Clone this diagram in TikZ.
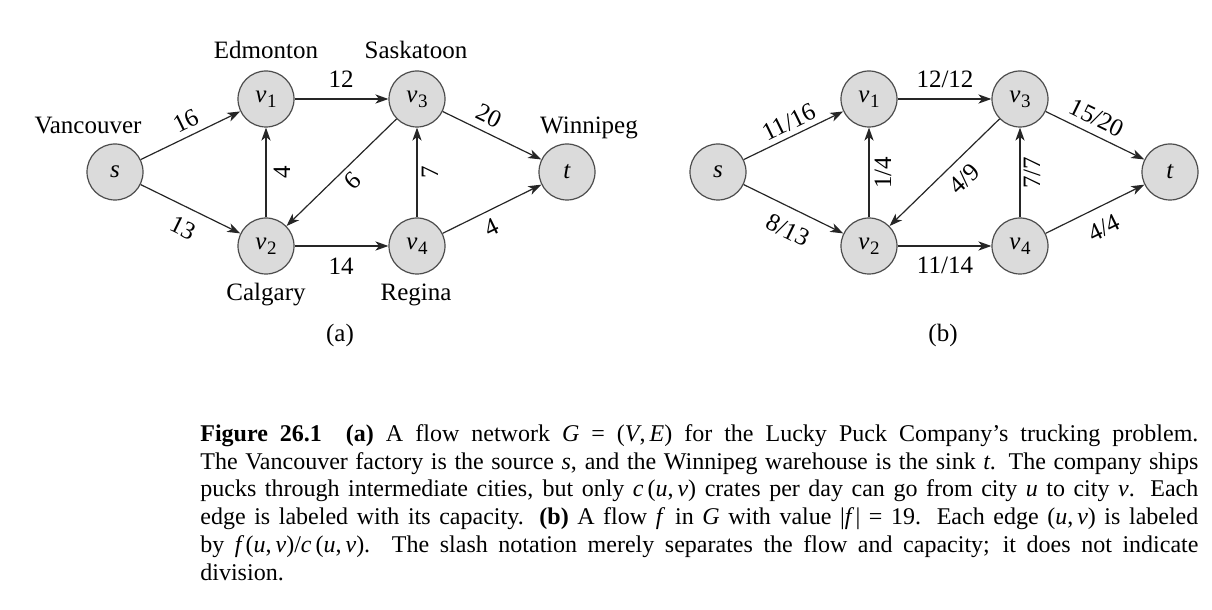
\documentclass[tikz,border=0pt]{standalone}
\usepackage{fontspec}
\setmainfont{Liberation Serif}
\usetikzlibrary{arrows.meta}
\newcommand\vx[2]{\textit{#1}\kern0.3pt\raisebox{-0.45ex}{\fontsize{9.5}{9.5}\selectfont #2}}
\newcommand\capline[1]{\hbox to 499pt{#1}}
\tikzset{
  vertex/.style={circle, draw=black!70, fill=black!14, line width=0.6pt, minimum size=28pt, inner sep=0pt, font=\fontsize{12.5}{14}\selectfont},
  edge/.style={draw=black!85, line width=0.6pt, -{Stealth[length=6.5pt,width=4.6pt,inset=1.8pt]}},
  city/.style={font=\fontsize{12.5}{14}\selectfont, inner sep=0pt},
  elab/.style={font=\fontsize{12.5}{14}\selectfont, inner sep=0pt},
}
\begin{document}
\begin{tikzpicture}[x=0.5pt,y=-0.5pt]
\useasboundingbox (0,0) rectangle (1212,610);
% ---------- (a)
\node[vertex] (s)  at (115,172) {\textit{s}};
\node[vertex] (v1) at (266,99)  {\vx{v}{1}};
\node[vertex] (v2) at (266,246) {\vx{v}{2}};
\node[vertex] (v3) at (417,99)  {\vx{v}{3}};
\node[vertex] (v4) at (417,246) {\vx{v}{4}};
\node[vertex] (t)  at (567,172) {\textit{t}};
\draw[edge] (s) -- (v1);
\draw[edge] (s) -- (v2);
\draw[edge] (v1) -- (v3);
\draw[edge] (v2) -- (v1);
\draw[edge] (v3) -- (v2);
\draw[edge] (v2) -- (v4);
\draw[edge] (v4) -- (v3);
\draw[edge] (v3) -- (t);
\draw[edge] (v4) -- (t);
\node[city] (edm) at (266,50) {Edmonton};
\node[city] (sas) at (416,50) {Saskatoon};
\node[city] (van) at (88,126) {Vancouver};
\node[city] (win) at (589,128) {Winnipeg};
\node[city] (cal) at (266,295) {Calgary};
\node[city] (reg) at (416,295) {Regina};
\node[elab, rotate=26]  (la1) at (186,121) {16};
\node[elab, rotate=-26] (la2) at (183,228) {13};
\node[elab] (la3) at (341,79) {12};
\node[elab] (la4) at (341,266) {14};
\node[elab, rotate=90] (la5) at (282,172) {4};
\node[elab, rotate=224] (la6) at (353,181) {9};
\node[elab, rotate=90] (la7) at (430,172) {7};
\node[elab, rotate=-26] (la8) at (489,116) {20};
\node[elab, rotate=26] (la9) at (492,227) {4};
\node[city] (capa) at (340,335) {(a)};
% ---------- (b)
\node[vertex] (bs)  at (718,172) {\textit{s}};
\node[vertex] (bv1) at (869,99)  {\vx{v}{1}};
\node[vertex] (bv2) at (869,246) {\vx{v}{2}};
\node[vertex] (bv3) at (1020,99)  {\vx{v}{3}};
\node[vertex] (bv4) at (1020,246) {\vx{v}{4}};
\node[vertex] (bt)  at (1170,172) {\textit{t}};
\draw[edge] (bs) -- (bv1);
\draw[edge] (bs) -- (bv2);
\draw[edge] (bv1) -- (bv3);
\draw[edge] (bv2) -- (bv1);
\draw[edge] (bv3) -- (bv2);
\draw[edge] (bv2) -- (bv4);
\draw[edge] (bv4) -- (bv3);
\draw[edge] (bv3) -- (bt);
\draw[edge] (bv4) -- (bt);
\node[elab, rotate=26]  (lb1) at (789,122) {11/16};
\node[elab, rotate=-26] (lb2) at (788,230) {8/13};
\node[elab] (lb3) at (945,79) {12/12};
\node[elab] (lb4) at (945,265) {11/14};
\node[elab, rotate=90] (lb5) at (883,173) {1/4};
\node[elab, rotate=44] (lb6) at (964,179) {4/9};
\node[elab, rotate=90] (lb7) at (1032,173) {7/7};
\node[elab, rotate=-26] (lb8) at (1097,118) {15/20};
\node[elab, rotate=26] (lb9) at (1104,228) {4/4};
\node[city] (capb) at (943,335) {(b)};
% ---------- caption
\node[anchor=north west, align=left, inner sep=0pt,
      font=\fontsize{12}{13.9}\selectfont] (cap) at (200,424)
{\capline{\textbf{Figure 26.1}\quad\textbf{(a)} A flow network \textit{G}~=~(\textit{V},\,\textit{E}) for the Lucky Puck Company’s trucking problem.}\\
\capline{The Vancouver factory is the source \textit{s}, and the Winnipeg warehouse is the sink \textit{t}. The company ships}\\
\capline{pucks through intermediate cities, but only \textit{c}\,(\textit{u},\,\textit{v}) crates per day can go from city \textit{u} to city \textit{v}. Each}\\
\capline{edge is labeled with its capacity. \textbf{(b)} A flow \textit{f\,} in \textit{G} with value |\textit{f\,}|~=~19. Each edge (\textit{u},\,\textit{v}) is labeled}\\
\capline{by \textit{f\,}(\textit{u},\,\textit{v})/\textit{c}\,(\textit{u},\,\textit{v}). The slash notation merely separates the flow and capacity; it does not indicate}\\
division.};
\end{tikzpicture}
\end{document}
